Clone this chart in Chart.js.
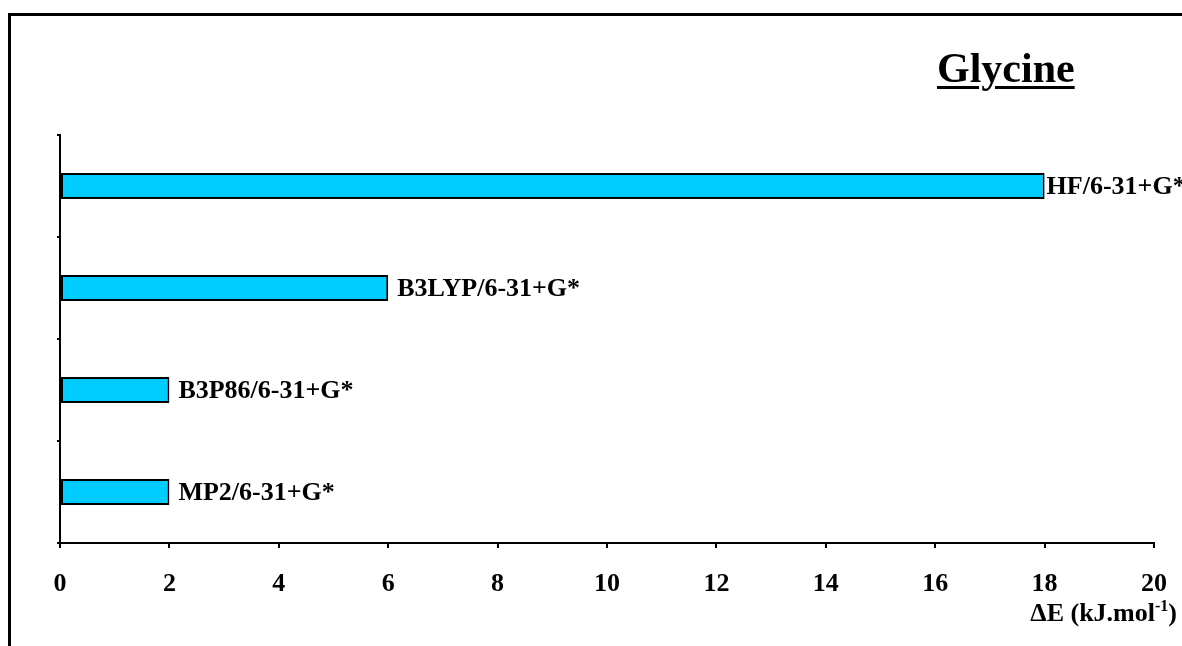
<!DOCTYPE html>
<html>
<head>
<meta charset="utf-8">
<script src="https://cdn.jsdelivr.net/npm/chart.js@4/dist/chart.umd.min.js"></script>
<style>
  html, body { margin: 0; padding: 0; background: #fff; }
  #wrap { position: relative; width: 1182px; height: 646px; overflow: hidden; }
  #frame { position: absolute; left: 8px; top: 13px; width: 1200px; height: 700px; border-left: 3px solid #000; border-top: 3px solid #000; box-sizing: border-box; }
  #title { position: absolute; left: 937px; top: 43px; font-family: "Liberation Serif", "Times New Roman", serif; font-weight: bold; font-size: 42px; line-height: 50px; text-decoration: underline; text-decoration-thickness: 3px; text-underline-offset: 4px; color: #000; white-space: nowrap; }
  #xtitle { position: absolute; right: 5px; top: 598px; font-family: "Liberation Serif", "Times New Roman", serif; font-weight: bold; font-size: 26px; line-height: 30px; color: #000; white-space: nowrap; }
  #xtitle sup { font-size: 16px; vertical-align: 10px; line-height: 0; }
  canvas { position: absolute; left: 0; top: 0; }
</style>
</head>
<body>
<div id="wrap">
  <div id="frame"></div>
  <canvas id="c" width="1182" height="646"></canvas>
  <div id="title">Glycine</div>
  <div id="xtitle">&Delta;E (kJ.mol<sup>-1</sup>)</div>
</div>
<script>
const categories = ["HF/6-31+G*", "B3LYP/6-31+G*", "B3P86/6-31+G*", "MP2/6-31+G*"];
const deltaE = [18, 6, 2, 2];
const xTickValues = [0, 2, 4, 6, 8, 10, 12, 14, 16, 18, 20];

const FONT = '"Liberation Serif", "Times New Roman", serif';

const barLabels = {
  id: 'barLabels',
  afterDatasetsDraw(chart) {
    const ctx = chart.ctx;
    const meta = chart.getDatasetMeta(0);
    ctx.save();
    ctx.font = 'bold 26px ' + FONT;
    ctx.fillStyle = '#000';
    ctx.textAlign = 'left';
    ctx.textBaseline = 'middle';
    meta.data.forEach((bar, i) => {
      const txt = chart.data.labels[i];
      const w = ctx.measureText(txt).width;
      const gap = (bar.x + 9 + w > chart.width) ? 2 : 9;
      ctx.fillText(txt, bar.x + gap, bar.y + 1);
    });
    ctx.restore();
  }
};

new Chart(document.getElementById('c'), {
  type: 'bar',
  data: {
    labels: categories,
    datasets: [{
      data: deltaE,
      backgroundColor: '#00CCFF',
      borderColor: '#000',
      borderWidth: 2,
      borderSkipped: false,
      barPercentage: 0.255,
      categoryPercentage: 1.0
    }]
  },
  options: {
    indexAxis: 'y',
    responsive: false,
    animation: false,
    devicePixelRatio: 1,
    layout: { padding: { left: 0, top: 135, right: 28, bottom: 0 } },
    plugins: { legend: { display: false }, tooltip: { enabled: false }, title: { display: false } },
    scales: {
      x: {
        type: 'linear',
        min: 0, max: 20,
        afterBuildTicks(scale) { scale.ticks = xTickValues.map(v => ({ value: v })); },
        afterFit(scale) { scale.height = 103; scale.paddingLeft = 0; scale.paddingRight = 0; },
        grid: { drawOnChartArea: false, drawTicks: true, tickLength: 5, color: '#000', lineWidth: 2 },
        border: { display: true, color: '#000', width: 2 },
        ticks: { color: '#000', font: { family: FONT, size: 26, weight: 'bold' }, padding: 21, maxRotation: 0 }
      },
      y: {
        type: 'category',
        offset: true,
        afterFit(scale) { scale.width = 60; scale.paddingTop = 0; scale.paddingBottom = 0; },
        grid: { drawOnChartArea: false, drawTicks: true, tickLength: 3, color: '#000', lineWidth: 2, offset: true },
        border: { display: true, color: '#000', width: 2 },
        ticks: { display: false }
      }
    }
  },
  plugins: [barLabels]
});
</script>
</body>
</html>
